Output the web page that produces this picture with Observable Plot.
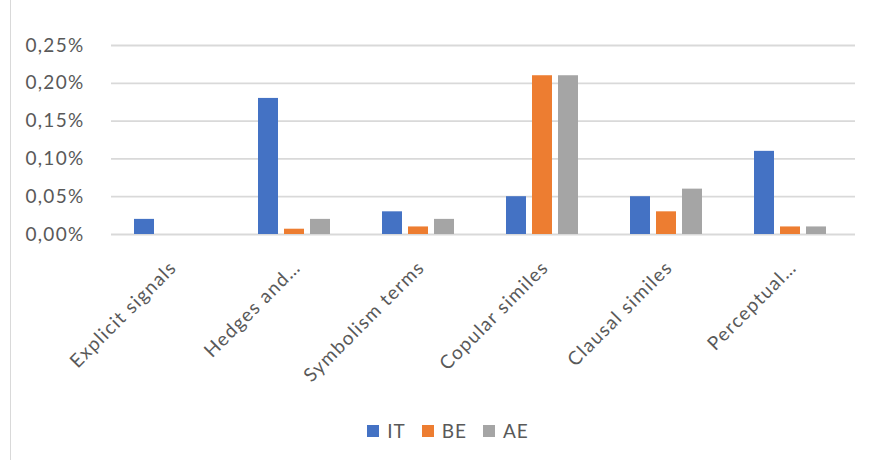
<!DOCTYPE html>
<html><head><meta charset="utf-8">
<script src="https://cdn.jsdelivr.net/npm/d3@7"></script>
<script src="https://cdn.jsdelivr.net/npm/@observablehq/plot@0.6"></script>
<style>
body{margin:0;background:#fff;font-family:Lato,sans-serif;}
#wrap{position:relative;width:870px;height:460px;overflow:hidden;background:#fff;}
#frame{position:absolute;left:10px;top:0;width:1px;height:460px;background:#d9d9d9;}
#chart{position:absolute;left:0;top:0;}
#legend{position:absolute;left:0;top:419px;width:870px;display:flex;justify-content:center;gap:16px;font-size:19px;letter-spacing:1px;color:#595959;padding-left:26px;box-sizing:border-box;}
#legend .item{display:flex;align-items:center;gap:8px;}
#legend .sw{width:12px;height:12px;display:inline-block;}
</style></head><body>
<div id="wrap"><div id="frame"></div><div id="chart"></div><div id="legend"></div></div>
<script>
const categories = ["Explicit signals","Hedges and…","Symbolism terms","Copular similes","Clausal similes","Perceptual…"];
const series = ["IT","BE","AE"];
const IT = [0.02,0.18,0.03,0.05,0.05,0.11];
const BE = [0,0.007,0.01,0.21,0.03,0.01];
const AE = [0,0.02,0.02,0.21,0.06,0.01];
const colors = ["#4472C4","#ED7D31","#A5A5A5"];
const yTicks = [0,0.05,0.10,0.15,0.20,0.25];

const valuesBySeries = {IT, BE, AE};
const data = [];
categories.forEach((c,i)=>series.forEach(s=>data.push({category:c, series:s, value:valuesBySeries[s][i]})));

const fmt = d => d3.format(".2f")(d).replace(".", ",") + "%";

const chart = Plot.plot({
  width: 870,
  height: 415,
  marginLeft: 110,
  marginRight: 15,
  marginTop: 45,
  marginBottom: 181,
  style: {fontFamily: "Lato, sans-serif", fontSize: "19px", letterSpacing: "1.3px", color: "#595959", background: "transparent"},
  fx: {domain: categories, padding: 0, tickRotate: -45, tickSize: 0, tickPadding: 30, label: null},
  x: {domain: series, axis: null, paddingInner: 0.222, paddingOuter: 0.9075, align: 0.44},
  y: {domain: [0, 0.25], ticks: yTicks, tickFormat: fmt, tickSize: 0, tickPadding: 27, label: null},
  color: {domain: series, range: colors},
  marks: [
    Plot.ruleY(yTicks, {stroke: "#d9d9d9", strokeWidth: 1.8}),
    Plot.barY(data, {fx: "category", x: "series", y: "value", fill: "series"})
  ]
});
document.getElementById("chart").appendChild(chart);

const legend = document.getElementById("legend");
series.forEach((s,i)=>{
  const it = document.createElement("div"); it.className="item";
  const sw = document.createElement("span"); sw.className="sw"; sw.style.background = colors[i];
  const tx = document.createElement("span"); tx.textContent = s;
  it.appendChild(sw); it.appendChild(tx); legend.appendChild(it);
});
</script>
</body></html>
